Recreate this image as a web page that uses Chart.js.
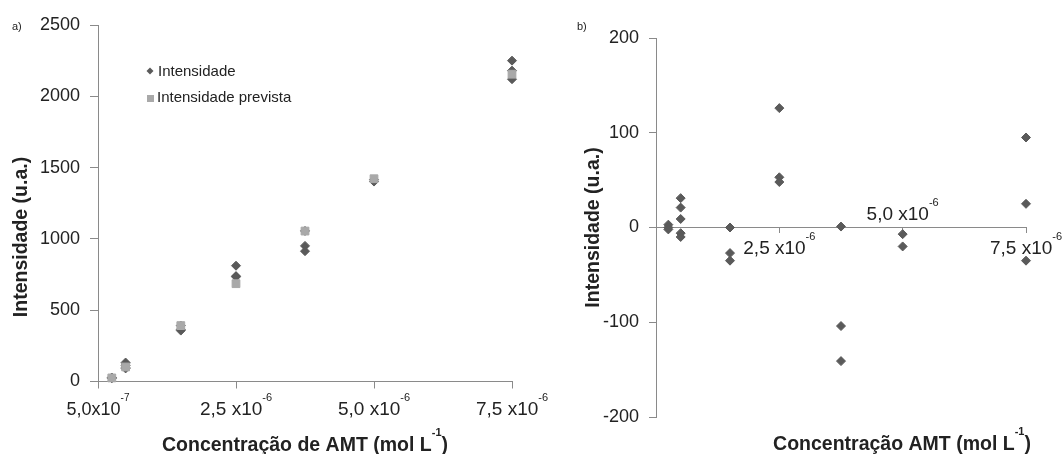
<!DOCTYPE html>
<html>
<head>
<meta charset="utf-8">
<script src="https://cdn.jsdelivr.net/npm/chart.js@4.4.1/dist/chart.umd.min.js"></script>
<style>
  html, body { margin: 0; padding: 0; background: #fff; }
  #wrap { position: relative; width: 1063px; height: 454px; overflow: hidden; }
  #chartA { position: absolute; left: 0; top: 0; }
  #chartB { position: absolute; left: 560px; top: 0; }
</style>
</head>
<body>
<div id="wrap">
  <canvas id="chartA" width="555" height="454"></canvas>
  <canvas id="chartB" width="503" height="454"></canvas>
</div>
<script>
// Concentração em unidades de 10^-6 mol L-1
const concPrevista = [0.25, 0.5, 1.5, 2.5, 3.75, 5.0, 7.5];
const intensidadePrevista = [25, 102, 392, 686, 1055, 1422, 2155];

const concMedida = [0.25, 0.25, 0.25, 0.5, 0.5, 0.5, 0.5, 0.5, 1.5, 1.5, 1.5,
    2.5, 2.5, 2.5, 3.75, 3.75, 3.75, 5.0, 5.0, 7.5, 7.5, 7.5];
const intensidade = [28, 25, 23, 133, 123, 111, 96, 92, 392, 365, 357,
    812, 739, 734, 1056, 951, 914, 1415, 1402, 2250, 2180, 2120];
const residuo = [3, 0, -2, 31, 21, 9, -6, -10, 0, -27, -35,
    126, 53, 48, 1, -104, -141, -7, -20, 95, 25, -35];

// Ticks
const xTicks = [0, 2.5, 5.0, 7.5];
const xTickLabelsA = ['5,0x10^-7', '2,5 x10^-6', '5,0 x10^-6', '7,5 x10^-6'];
const xTickLabelsB = ['', '2,5 x10^-6', '5,0 x10^-6', '7,5 x10^-6'];
const yTicksA = [0, 500, 1000, 1500, 2000, 2500];
const yTicksB = [-200, -100, 0, 100, 200];

const FONT = "'Liberation Sans', Arial, sans-serif";
const TEXT = '#222';
const AXIS = '#8a8a8a';
const DARK = '#5a5a5a';
const LIGHT = '#a9a9a9';

const toPoints = (xs, ys) => xs.map((x, i) => ({ x: x, y: ys[i] }));

// Draw text where "^-6" means a superscript, y is the middle of the capitals
const drawRich = (ctx, str, x, y, size, weight, align) => {
    const parts = str.split(/\^(-?\d+)/);
    const supSize = Math.round(size * 0.58);
    const baseFont = `${weight} ${size}px ${FONT}`;
    const supFont = `${weight} ${supSize}px ${FONT}`;
    let w = 0;
    parts.forEach((p, i) => { ctx.font = i % 2 ? supFont : baseFont; w += ctx.measureText(p).width; });
    let cx = align === 'center' ? x - w / 2 : x;
    ctx.textAlign = 'left';
    ctx.textBaseline = 'alphabetic';
    parts.forEach((p, i) => {
        const sup = i % 2 === 1;
        ctx.font = sup ? supFont : baseFont;
        const by = sup ? y - size * 0.6 + supSize * 0.358 : y + size * 0.358;
        ctx.fillText(p, cx, by);
        cx += ctx.measureText(p).width;
    });
};

const drawDiamond = (ctx, x, y, r) => {
    ctx.beginPath();
    ctx.moveTo(x, y - r); ctx.lineTo(x + r, y); ctx.lineTo(x, y + r); ctx.lineTo(x - r, y);
    ctx.closePath();
    ctx.fill();
};

const axisStyle = (tickLength) => ({
    grid: { drawOnChartArea: false, drawTicks: true, tickLength: tickLength, color: AXIS, lineWidth: 1 },
    border: { display: true, color: AXIS, width: 1 }
});

const setTicks = (values) => (scale) => { scale.ticks = values.map(v => ({ value: v })); };

// Decorations for chart a): tick labels, titles, legend
const decorA = {
    id: 'decorA',
    afterDraw(chart) {
        const { ctx, scales: { x, y } } = chart;
        ctx.save();
        ctx.fillStyle = TEXT;
        const y0 = y.getPixelForValue(0);
        x.ticks.forEach((t, i) => {
            const size = i === 0 ? 18 : 19;
            drawRich(ctx, xTickLabelsA[i], x.getPixelForValue(t.value), y0 + 27, size, 'normal', 'center');
        });
        drawRich(ctx, 'Concentração de AMT (mol L^-1)', (chart.chartArea.left + chart.chartArea.right) / 2, 444, 19.5, 'bold', 'center');
        ctx.save();
        ctx.translate(20, 237);
        ctx.rotate(-Math.PI / 2);
        drawRich(ctx, 'Intensidade (u.a.)', 0, 0, 19.5, 'bold', 'center');
        ctx.restore();
        drawRich(ctx, 'a)', 12, 26, 11, 'normal', 'left');

        // legend
        ctx.fillStyle = DARK;
        drawDiamond(ctx, 150, 71, 3.5);
        ctx.fillStyle = LIGHT;
        ctx.fillRect(147, 95, 7, 7);
        ctx.fillStyle = TEXT;
        drawRich(ctx, chart.data.datasets[0].label, 158, 71, 15, 'normal', 'left');
        drawRich(ctx, chart.data.datasets[1].label, 157, 97, 15, 'normal', 'left');
        ctx.restore();
    }
};

// Decorations for chart b)
const labelAboveB = [false, false, true, false];
const decorB = {
    id: 'decorB',
    afterDraw(chart) {
        const { ctx, scales: { x, y } } = chart;
        ctx.save();
        ctx.fillStyle = TEXT;
        const y0 = y.getPixelForValue(0);
        x.ticks.forEach((t, i) => {
            if (!xTickLabelsB[i]) return;
            const ly = labelAboveB[i] ? y0 - 14.5 : y0 + 20;
            drawRich(ctx, xTickLabelsB[i], x.getPixelForValue(t.value), ly, 19, 'normal', 'center');
        });
        drawRich(ctx, 'Concentração AMT (mol L^-1)', 342, 443, 19.5, 'bold', 'center');
        ctx.save();
        ctx.translate(32, (chart.chartArea.top + chart.chartArea.bottom) / 2);
        ctx.rotate(-Math.PI / 2);
        drawRich(ctx, 'Intensidade (u.a.)', 0, 0, 19.5, 'bold', 'center');
        ctx.restore();
        drawRich(ctx, 'b)', 17, 26, 11, 'normal', 'left');
        ctx.restore();
    }
};

new Chart(document.getElementById('chartA').getContext('2d'), {
    type: 'scatter',
    data: {
        datasets: [{
            label: 'Intensidade',
            data: toPoints(concMedida, intensidade),
            pointStyle: 'rectRot',
            pointRadius: 4.5,
            backgroundColor: DARK,
            borderColor: DARK,
            borderWidth: 1,
            clip: false,
            order: 2
        }, {
            label: 'Intensidade prevista',
            data: toPoints(concPrevista, intensidadePrevista),
            pointStyle: 'rect',
            pointRadius: 5.5,
            backgroundColor: LIGHT,
            borderColor: LIGHT,
            borderWidth: 1,
            clip: false,
            order: 1
        }]
    },
    options: {
        responsive: false,
        animation: false,
        layout: { padding: { left: 0, top: 25, right: 43, bottom: 0 } },
        plugins: { legend: { display: false }, tooltip: { enabled: false } },
        scales: {
            x: {
                type: 'linear',
                position: 'bottom',
                min: 0,
                max: 7.5,
                ...axisStyle(7),
                ticks: { display: false },
                afterBuildTicks: setTicks(xTicks),
                afterFit: (scale) => { scale.height = 72.5; }
            },
            y: {
                type: 'linear',
                min: 0,
                max: 2500,
                ...axisStyle(8),
                ticks: {
                    color: TEXT,
                    padding: 10,
                    font: { family: FONT, size: 18 },
                    callback: (v) => String(v)
                },
                afterBuildTicks: setTicks(yTicksA),
                afterFit: (scale) => { scale.width = 98; }
            }
        }
    },
    plugins: [decorA]
});

new Chart(document.getElementById('chartB').getContext('2d'), {
    type: 'scatter',
    data: {
        datasets: [{
            label: 'Resíduo',
            data: toPoints(concMedida, residuo),
            pointStyle: 'rectRot',
            pointRadius: 4.5,
            backgroundColor: DARK,
            borderColor: DARK,
            borderWidth: 1,
            clip: false
        }]
    },
    options: {
        responsive: false,
        animation: false,
        layout: { padding: { left: 0, top: 38, right: 37, bottom: 37 } },
        plugins: { legend: { display: false }, tooltip: { enabled: false } },
        scales: {
            x: {
                type: 'linear',
                position: { y: 0 },
                min: 0,
                max: 7.5,
                ...axisStyle(5),
                ticks: { display: false },
                afterBuildTicks: setTicks(xTicks)
            },
            y: {
                type: 'linear',
                position: 'left',
                min: -200,
                max: 200,
                ...axisStyle(7),
                ticks: {
                    color: TEXT,
                    padding: 10,
                    font: { family: FONT, size: 18 },
                    callback: (v) => String(v)
                },
                afterBuildTicks: setTicks(yTicksB),
                afterFit: (scale) => { scale.width = 96; }
            }
        }
    },
    plugins: [decorB]
});
</script>
</body>
</html>
